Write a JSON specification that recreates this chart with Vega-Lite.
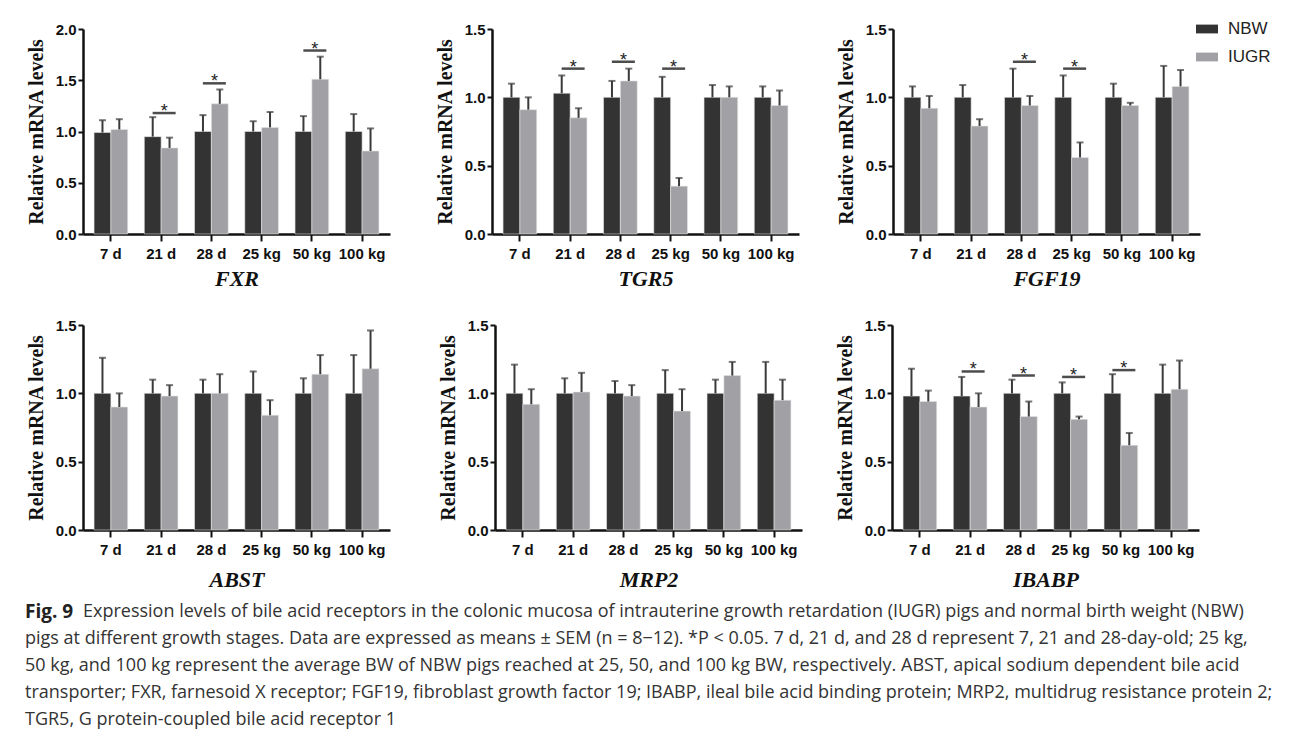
{
"$schema": "https://vega.github.io/schema/vega-lite/v6.json",
"padding": {"left": 25, "top": 18, "right": 5, "bottom": 5},
"background": "white",
"datasets": {
"bars": [
{"gene":"FXR","age":"7 d","group":"NBW","mean":0.99,"upper":1.11},{"gene":"FXR","age":"7 d","group":"IUGR","mean":1.02,"upper":1.12},
{"gene":"FXR","age":"21 d","group":"NBW","mean":0.95,"upper":1.14},{"gene":"FXR","age":"21 d","group":"IUGR","mean":0.84,"upper":0.94},
{"gene":"FXR","age":"28 d","group":"NBW","mean":1.0,"upper":1.16},{"gene":"FXR","age":"28 d","group":"IUGR","mean":1.27,"upper":1.41},
{"gene":"FXR","age":"25 kg","group":"NBW","mean":1.0,"upper":1.10},{"gene":"FXR","age":"25 kg","group":"IUGR","mean":1.04,"upper":1.19},
{"gene":"FXR","age":"50 kg","group":"NBW","mean":1.0,"upper":1.15},{"gene":"FXR","age":"50 kg","group":"IUGR","mean":1.51,"upper":1.73},
{"gene":"FXR","age":"100 kg","group":"NBW","mean":1.0,"upper":1.17},{"gene":"FXR","age":"100 kg","group":"IUGR","mean":0.81,"upper":1.03},
{"gene":"TGR5","age":"7 d","group":"NBW","mean":1.0,"upper":1.10},{"gene":"TGR5","age":"7 d","group":"IUGR","mean":0.91,"upper":1.0},
{"gene":"TGR5","age":"21 d","group":"NBW","mean":1.03,"upper":1.16},{"gene":"TGR5","age":"21 d","group":"IUGR","mean":0.85,"upper":0.92},
{"gene":"TGR5","age":"28 d","group":"NBW","mean":1.0,"upper":1.12},{"gene":"TGR5","age":"28 d","group":"IUGR","mean":1.12,"upper":1.21},
{"gene":"TGR5","age":"25 kg","group":"NBW","mean":1.0,"upper":1.15},{"gene":"TGR5","age":"25 kg","group":"IUGR","mean":0.35,"upper":0.41},
{"gene":"TGR5","age":"50 kg","group":"NBW","mean":1.0,"upper":1.09},{"gene":"TGR5","age":"50 kg","group":"IUGR","mean":1.0,"upper":1.08},
{"gene":"TGR5","age":"100 kg","group":"NBW","mean":1.0,"upper":1.08},{"gene":"TGR5","age":"100 kg","group":"IUGR","mean":0.94,"upper":1.05},
{"gene":"FGF19","age":"7 d","group":"NBW","mean":1.0,"upper":1.08},{"gene":"FGF19","age":"7 d","group":"IUGR","mean":0.92,"upper":1.01},
{"gene":"FGF19","age":"21 d","group":"NBW","mean":1.0,"upper":1.09},{"gene":"FGF19","age":"21 d","group":"IUGR","mean":0.79,"upper":0.84},
{"gene":"FGF19","age":"28 d","group":"NBW","mean":1.0,"upper":1.21},{"gene":"FGF19","age":"28 d","group":"IUGR","mean":0.94,"upper":1.01},
{"gene":"FGF19","age":"25 kg","group":"NBW","mean":1.0,"upper":1.16},{"gene":"FGF19","age":"25 kg","group":"IUGR","mean":0.56,"upper":0.67},
{"gene":"FGF19","age":"50 kg","group":"NBW","mean":1.0,"upper":1.10},{"gene":"FGF19","age":"50 kg","group":"IUGR","mean":0.94,"upper":0.96},
{"gene":"FGF19","age":"100 kg","group":"NBW","mean":1.0,"upper":1.23},{"gene":"FGF19","age":"100 kg","group":"IUGR","mean":1.08,"upper":1.20},
{"gene":"ABST","age":"7 d","group":"NBW","mean":1.0,"upper":1.26},{"gene":"ABST","age":"7 d","group":"IUGR","mean":0.90,"upper":1.0},
{"gene":"ABST","age":"21 d","group":"NBW","mean":1.0,"upper":1.10},{"gene":"ABST","age":"21 d","group":"IUGR","mean":0.98,"upper":1.06},
{"gene":"ABST","age":"28 d","group":"NBW","mean":1.0,"upper":1.10},{"gene":"ABST","age":"28 d","group":"IUGR","mean":1.0,"upper":1.14},
{"gene":"ABST","age":"25 kg","group":"NBW","mean":1.0,"upper":1.16},{"gene":"ABST","age":"25 kg","group":"IUGR","mean":0.84,"upper":0.95},
{"gene":"ABST","age":"50 kg","group":"NBW","mean":1.0,"upper":1.11},{"gene":"ABST","age":"50 kg","group":"IUGR","mean":1.14,"upper":1.28},
{"gene":"ABST","age":"100 kg","group":"NBW","mean":1.0,"upper":1.28},{"gene":"ABST","age":"100 kg","group":"IUGR","mean":1.18,"upper":1.46},
{"gene":"MRP2","age":"7 d","group":"NBW","mean":1.0,"upper":1.21},{"gene":"MRP2","age":"7 d","group":"IUGR","mean":0.92,"upper":1.03},
{"gene":"MRP2","age":"21 d","group":"NBW","mean":1.0,"upper":1.11},{"gene":"MRP2","age":"21 d","group":"IUGR","mean":1.01,"upper":1.15},
{"gene":"MRP2","age":"28 d","group":"NBW","mean":1.0,"upper":1.09},{"gene":"MRP2","age":"28 d","group":"IUGR","mean":0.98,"upper":1.06},
{"gene":"MRP2","age":"25 kg","group":"NBW","mean":1.0,"upper":1.17},{"gene":"MRP2","age":"25 kg","group":"IUGR","mean":0.87,"upper":1.03},
{"gene":"MRP2","age":"50 kg","group":"NBW","mean":1.0,"upper":1.10},{"gene":"MRP2","age":"50 kg","group":"IUGR","mean":1.13,"upper":1.23},
{"gene":"MRP2","age":"100 kg","group":"NBW","mean":1.0,"upper":1.23},{"gene":"MRP2","age":"100 kg","group":"IUGR","mean":0.95,"upper":1.10},
{"gene":"IBABP","age":"7 d","group":"NBW","mean":0.98,"upper":1.18},{"gene":"IBABP","age":"7 d","group":"IUGR","mean":0.94,"upper":1.02},
{"gene":"IBABP","age":"21 d","group":"NBW","mean":0.98,"upper":1.12},{"gene":"IBABP","age":"21 d","group":"IUGR","mean":0.90,"upper":1.0},
{"gene":"IBABP","age":"28 d","group":"NBW","mean":1.0,"upper":1.10},{"gene":"IBABP","age":"28 d","group":"IUGR","mean":0.83,"upper":0.94},
{"gene":"IBABP","age":"25 kg","group":"NBW","mean":1.0,"upper":1.08},{"gene":"IBABP","age":"25 kg","group":"IUGR","mean":0.81,"upper":0.83},
{"gene":"IBABP","age":"50 kg","group":"NBW","mean":1.0,"upper":1.14},{"gene":"IBABP","age":"50 kg","group":"IUGR","mean":0.62,"upper":0.71},
{"gene":"IBABP","age":"100 kg","group":"NBW","mean":1.0,"upper":1.21},{"gene":"IBABP","age":"100 kg","group":"IUGR","mean":1.03,"upper":1.24}
],
"sig": [
{"gene":"FXR","age":"21 d","level":1.18},{"gene":"FXR","age":"28 d","level":1.47},{"gene":"FXR","age":"50 kg","level":1.79},
{"gene":"TGR5","age":"21 d","level":1.21},{"gene":"TGR5","age":"28 d","level":1.26},{"gene":"TGR5","age":"25 kg","level":1.21},
{"gene":"FGF19","age":"28 d","level":1.26},{"gene":"FGF19","age":"25 kg","level":1.21},
{"gene":"IBABP","age":"21 d","level":1.16},{"gene":"IBABP","age":"28 d","level":1.13},{"gene":"IBABP","age":"25 kg","level":1.12},{"gene":"IBABP","age":"50 kg","level":1.17}
],
"caption": [
{"line":1,"part":"head","text":"Fig. 9"},
{"line":1,"part":"first","text":"Expression levels of bile acid receptors in the colonic mucosa of intrauterine growth retardation (IUGR) pigs and normal birth weight (NBW)"},
{"line":2,"part":"body","text":"pigs at different growth stages. Data are expressed as means ± SEM (n = 8−12). *P < 0.05. 7 d, 21 d, and 28 d represent 7, 21 and 28-day-old; 25 kg,"},
{"line":3,"part":"body","text":"50 kg, and 100 kg represent the average BW of NBW pigs reached at 25, 50, and 100 kg BW, respectively. ABST, apical sodium dependent bile acid"},
{"line":4,"part":"body","text":"transporter; FXR, farnesoid X receptor; FGF19, fibroblast growth factor 19; IBABP, ileal bile acid binding protein; MRP2, multidrug resistance protein 2;"},
{"line":5,"part":"body","text":"TGR5, G protein-coupled bile acid receptor 1"}
]
},
"spacing": 8,
"resolve": {"scale": {"color": "independent"}, "legend": {"color": "independent"}},
"vconcat": [
{
"spacing": 29,
"resolve": {"scale": {"color": "independent"}, "legend": {"color": "independent"}},
"vconcat": [
{
"spacing": 45,
"resolve": {"scale": {"color": "independent"}, "legend": {"color": "independent"}},
"hconcat": [
{"width":307,"height":205,
"encoding":{
"x":{"field":"age","type":"nominal","sort":["7 d","21 d","28 d","25 kg","50 kg","100 kg"],"scale":{"paddingInner":0.33,"paddingOuter":0.22},"title":"FXR"},
"y":{"field":"mean","type":"quantitative","scale":{"domain":[0,2],"nice":false},"axis":{"values":[0,0.5,1,1.5,2],"format":".1f"},"title":"Relative mRNA levels"}},
"layer":[
{"data":{"name":"bars"},"transform":[{"filter":"datum.gene === 'FXR'"}],"mark":{"type":"bar","stroke":"#e4e4e4","strokeWidth":0.6},"encoding":{"xOffset":{"field":"group","type":"nominal","scale":{"domain":["NBW","IUGR"]}},"color":{"field":"group","type":"nominal","scale":{"domain":["NBW","IUGR"],"range":["#333333","#a1a1a5"]},"legend":null}}},
{"data":{"name":"bars"},"transform":[{"filter":"datum.gene === 'FXR'"}],"mark":{"type":"rule","color":"#3a3a3a","strokeWidth":2},"encoding":{"xOffset":{"field":"group","type":"nominal","scale":{"domain":["NBW","IUGR"]}},"y2":{"field":"upper"}}},
{"data":{"name":"bars"},"transform":[{"filter":"datum.gene === 'FXR'"}],"mark":{"type":"tick","color":"#3a3a3a","thickness":2,"size":7},"encoding":{"xOffset":{"field":"group","type":"nominal","scale":{"domain":["NBW","IUGR"]}},"y":{"field":"upper","type":"quantitative","scale":{"domain":[0,2],"nice":false},"axis":{"values":[0,0.5,1,1.5,2],"format":".1f"},"title":"Relative mRNA levels"}}},
{"data":{"name":"sig"},"transform":[{"filter":"datum.gene === 'FXR'"}],"mark":{"type":"tick","color":"#000000","thickness":2.5,"size":23,"xOffset":3},"encoding":{"y":{"field":"level","type":"quantitative","scale":{"domain":[0,2],"nice":false},"axis":{"values":[0,0.5,1,1.5,2],"format":".1f"},"title":"Relative mRNA levels"}}},
{"data":{"name":"sig"},"transform":[{"filter":"datum.gene === 'FXR'"}],"mark":{"type":"text","text":"*","fontSize":18,"color":"#222222","baseline":"alphabetic","dy":4,"xOffset":3},"encoding":{"y":{"field":"level","type":"quantitative","scale":{"domain":[0,2],"nice":false},"axis":{"values":[0,0.5,1,1.5,2],"format":".1f"},"title":"Relative mRNA levels"}}}
]},
{
"spacing": 37,
"resolve": {"scale": {"color": "independent"}, "legend": {"color": "independent"}},
"hconcat": [
{"width":307,"height":205,
"encoding":{
"x":{"field":"age","type":"nominal","sort":["7 d","21 d","28 d","25 kg","50 kg","100 kg"],"scale":{"paddingInner":0.33,"paddingOuter":0.22},"title":"TGR5"},
"y":{"field":"mean","type":"quantitative","scale":{"domain":[0,1.5],"nice":false},"axis":{"values":[0,0.5,1,1.5],"format":".1f"},"title":"Relative mRNA levels"}},
"layer":[
{"data":{"name":"bars"},"transform":[{"filter":"datum.gene === 'TGR5'"}],"mark":{"type":"bar","stroke":"#e4e4e4","strokeWidth":0.6},"encoding":{"xOffset":{"field":"group","type":"nominal","scale":{"domain":["NBW","IUGR"]}},"color":{"field":"group","type":"nominal","scale":{"domain":["NBW","IUGR"],"range":["#333333","#a1a1a5"]},"legend":null}}},
{"data":{"name":"bars"},"transform":[{"filter":"datum.gene === 'TGR5'"}],"mark":{"type":"rule","color":"#3a3a3a","strokeWidth":2},"encoding":{"xOffset":{"field":"group","type":"nominal","scale":{"domain":["NBW","IUGR"]}},"y2":{"field":"upper"}}},
{"data":{"name":"bars"},"transform":[{"filter":"datum.gene === 'TGR5'"}],"mark":{"type":"tick","color":"#3a3a3a","thickness":2,"size":7},"encoding":{"xOffset":{"field":"group","type":"nominal","scale":{"domain":["NBW","IUGR"]}},"y":{"field":"upper","type":"quantitative","scale":{"domain":[0,1.5],"nice":false},"axis":{"values":[0,0.5,1,1.5],"format":".1f"},"title":"Relative mRNA levels"}}},
{"data":{"name":"sig"},"transform":[{"filter":"datum.gene === 'TGR5'"}],"mark":{"type":"tick","color":"#000000","thickness":2.5,"size":23,"xOffset":3},"encoding":{"y":{"field":"level","type":"quantitative","scale":{"domain":[0,1.5],"nice":false},"axis":{"values":[0,0.5,1,1.5],"format":".1f"},"title":"Relative mRNA levels"}}},
{"data":{"name":"sig"},"transform":[{"filter":"datum.gene === 'TGR5'"}],"mark":{"type":"text","text":"*","fontSize":18,"color":"#222222","baseline":"alphabetic","dy":4,"xOffset":3},"encoding":{"y":{"field":"level","type":"quantitative","scale":{"domain":[0,1.5],"nice":false},"axis":{"values":[0,0.5,1,1.5],"format":".1f"},"title":"Relative mRNA levels"}}}
]},
{"width":307,"height":205,
"encoding":{
"x":{"field":"age","type":"nominal","sort":["7 d","21 d","28 d","25 kg","50 kg","100 kg"],"scale":{"paddingInner":0.33,"paddingOuter":0.22},"title":"FGF19"},
"y":{"field":"mean","type":"quantitative","scale":{"domain":[0,1.5],"nice":false},"axis":{"values":[0,0.5,1,1.5],"format":".1f"},"title":"Relative mRNA levels"}},
"layer":[
{"data":{"name":"bars"},"transform":[{"filter":"datum.gene === 'FGF19'"}],"mark":{"type":"bar","stroke":"#e4e4e4","strokeWidth":0.6},"encoding":{"xOffset":{"field":"group","type":"nominal","scale":{"domain":["NBW","IUGR"]}},"color":{"field":"group","type":"nominal","scale":{"domain":["NBW","IUGR"],"range":["#333333","#a1a1a5"]},"legend":{"orient":"none","legendX":303,"legendY":-11,"title":null,"symbolType":"M-1,-0.4L1,-0.4L1,0.4L-1,0.4Z","symbolSize":484,"symbolStrokeWidth":0,"labelFont":"Liberation Sans","labelFontSize":17,"labelColor":"#222222","labelOffset":10,"rowPadding":9}}}},
{"data":{"name":"bars"},"transform":[{"filter":"datum.gene === 'FGF19'"}],"mark":{"type":"rule","color":"#3a3a3a","strokeWidth":2},"encoding":{"xOffset":{"field":"group","type":"nominal","scale":{"domain":["NBW","IUGR"]}},"y2":{"field":"upper"}}},
{"data":{"name":"bars"},"transform":[{"filter":"datum.gene === 'FGF19'"}],"mark":{"type":"tick","color":"#3a3a3a","thickness":2,"size":7},"encoding":{"xOffset":{"field":"group","type":"nominal","scale":{"domain":["NBW","IUGR"]}},"y":{"field":"upper","type":"quantitative","scale":{"domain":[0,1.5],"nice":false},"axis":{"values":[0,0.5,1,1.5],"format":".1f"},"title":"Relative mRNA levels"}}},
{"data":{"name":"sig"},"transform":[{"filter":"datum.gene === 'FGF19'"}],"mark":{"type":"tick","color":"#000000","thickness":2.5,"size":23,"xOffset":3},"encoding":{"y":{"field":"level","type":"quantitative","scale":{"domain":[0,1.5],"nice":false},"axis":{"values":[0,0.5,1,1.5],"format":".1f"},"title":"Relative mRNA levels"}}},
{"data":{"name":"sig"},"transform":[{"filter":"datum.gene === 'FGF19'"}],"mark":{"type":"text","text":"*","fontSize":18,"color":"#222222","baseline":"alphabetic","dy":4,"xOffset":3},"encoding":{"y":{"field":"level","type":"quantitative","scale":{"domain":[0,1.5],"nice":false},"axis":{"values":[0,0.5,1,1.5],"format":".1f"},"title":"Relative mRNA levels"}}}
]}
]
}
]
},
{
"spacing": 48,
"resolve": {"scale": {"color": "independent"}, "legend": {"color": "independent"}},
"hconcat": [
{"width":307,"height":205,
"encoding":{
"x":{"field":"age","type":"nominal","sort":["7 d","21 d","28 d","25 kg","50 kg","100 kg"],"scale":{"paddingInner":0.33,"paddingOuter":0.22},"axis":{"titlePadding":12},"title":"ABST"},
"y":{"field":"mean","type":"quantitative","scale":{"domain":[0,1.5],"nice":false},"axis":{"values":[0,0.5,1,1.5],"format":".1f"},"title":"Relative mRNA levels"}},
"layer":[
{"data":{"name":"bars"},"transform":[{"filter":"datum.gene === 'ABST'"}],"mark":{"type":"bar","stroke":"#e4e4e4","strokeWidth":0.6},"encoding":{"xOffset":{"field":"group","type":"nominal","scale":{"domain":["NBW","IUGR"]}},"color":{"field":"group","type":"nominal","scale":{"domain":["NBW","IUGR"],"range":["#333333","#a1a1a5"]},"legend":null}}},
{"data":{"name":"bars"},"transform":[{"filter":"datum.gene === 'ABST'"}],"mark":{"type":"rule","color":"#3a3a3a","strokeWidth":2},"encoding":{"xOffset":{"field":"group","type":"nominal","scale":{"domain":["NBW","IUGR"]}},"y2":{"field":"upper"}}},
{"data":{"name":"bars"},"transform":[{"filter":"datum.gene === 'ABST'"}],"mark":{"type":"tick","color":"#3a3a3a","thickness":2,"size":7},"encoding":{"xOffset":{"field":"group","type":"nominal","scale":{"domain":["NBW","IUGR"]}},"y":{"field":"upper","type":"quantitative","scale":{"domain":[0,1.5],"nice":false},"axis":{"values":[0,0.5,1,1.5],"format":".1f"},"title":"Relative mRNA levels"}}}
]},
{
"spacing": 33,
"resolve": {"scale": {"color": "independent"}, "legend": {"color": "independent"}},
"hconcat": [
{"width":307,"height":205,
"encoding":{
"x":{"field":"age","type":"nominal","sort":["7 d","21 d","28 d","25 kg","50 kg","100 kg"],"scale":{"paddingInner":0.33,"paddingOuter":0.22},"axis":{"titlePadding":12},"title":"MRP2"},
"y":{"field":"mean","type":"quantitative","scale":{"domain":[0,1.5],"nice":false},"axis":{"values":[0,0.5,1,1.5],"format":".1f"},"title":"Relative mRNA levels"}},
"layer":[
{"data":{"name":"bars"},"transform":[{"filter":"datum.gene === 'MRP2'"}],"mark":{"type":"bar","stroke":"#e4e4e4","strokeWidth":0.6},"encoding":{"xOffset":{"field":"group","type":"nominal","scale":{"domain":["NBW","IUGR"]}},"color":{"field":"group","type":"nominal","scale":{"domain":["NBW","IUGR"],"range":["#333333","#a1a1a5"]},"legend":null}}},
{"data":{"name":"bars"},"transform":[{"filter":"datum.gene === 'MRP2'"}],"mark":{"type":"rule","color":"#3a3a3a","strokeWidth":2},"encoding":{"xOffset":{"field":"group","type":"nominal","scale":{"domain":["NBW","IUGR"]}},"y2":{"field":"upper"}}},
{"data":{"name":"bars"},"transform":[{"filter":"datum.gene === 'MRP2'"}],"mark":{"type":"tick","color":"#3a3a3a","thickness":2,"size":7},"encoding":{"xOffset":{"field":"group","type":"nominal","scale":{"domain":["NBW","IUGR"]}},"y":{"field":"upper","type":"quantitative","scale":{"domain":[0,1.5],"nice":false},"axis":{"values":[0,0.5,1,1.5],"format":".1f"},"title":"Relative mRNA levels"}}}
]},
{"width":307,"height":205,
"encoding":{
"x":{"field":"age","type":"nominal","sort":["7 d","21 d","28 d","25 kg","50 kg","100 kg"],"scale":{"paddingInner":0.33,"paddingOuter":0.22},"axis":{"titlePadding":12},"title":"IBABP"},
"y":{"field":"mean","type":"quantitative","scale":{"domain":[0,1.5],"nice":false},"axis":{"values":[0,0.5,1,1.5],"format":".1f"},"title":"Relative mRNA levels"}},
"layer":[
{"data":{"name":"bars"},"transform":[{"filter":"datum.gene === 'IBABP'"}],"mark":{"type":"bar","stroke":"#e4e4e4","strokeWidth":0.6},"encoding":{"xOffset":{"field":"group","type":"nominal","scale":{"domain":["NBW","IUGR"]}},"color":{"field":"group","type":"nominal","scale":{"domain":["NBW","IUGR"],"range":["#333333","#a1a1a5"]},"legend":null}}},
{"data":{"name":"bars"},"transform":[{"filter":"datum.gene === 'IBABP'"}],"mark":{"type":"rule","color":"#3a3a3a","strokeWidth":2},"encoding":{"xOffset":{"field":"group","type":"nominal","scale":{"domain":["NBW","IUGR"]}},"y2":{"field":"upper"}}},
{"data":{"name":"bars"},"transform":[{"filter":"datum.gene === 'IBABP'"}],"mark":{"type":"tick","color":"#3a3a3a","thickness":2,"size":7},"encoding":{"xOffset":{"field":"group","type":"nominal","scale":{"domain":["NBW","IUGR"]}},"y":{"field":"upper","type":"quantitative","scale":{"domain":[0,1.5],"nice":false},"axis":{"values":[0,0.5,1,1.5],"format":".1f"},"title":"Relative mRNA levels"}}},
{"data":{"name":"sig"},"transform":[{"filter":"datum.gene === 'IBABP'"}],"mark":{"type":"tick","color":"#000000","thickness":2.5,"size":23,"xOffset":3},"encoding":{"y":{"field":"level","type":"quantitative","scale":{"domain":[0,1.5],"nice":false},"axis":{"values":[0,0.5,1,1.5],"format":".1f"},"title":"Relative mRNA levels"}}},
{"data":{"name":"sig"},"transform":[{"filter":"datum.gene === 'IBABP'"}],"mark":{"type":"text","text":"*","fontSize":18,"color":"#222222","baseline":"alphabetic","dy":4,"xOffset":3},"encoding":{"y":{"field":"level","type":"quantitative","scale":{"domain":[0,1.5],"nice":false},"axis":{"values":[0,0.5,1,1.5],"format":".1f"},"title":"Relative mRNA levels"}}}
]}
]
}
]
}
]
},
{"width":1180,"height":135,
"data":{"name":"caption"},
"encoding":{
"y":{"field":"line","type":"ordinal","axis":null,"scale":{"domain":[1,2,3,4,5]}},
"x":{"datum":0,"type":"quantitative","scale":{"domain":[0,1]},"axis":null},
"text":{"field":"text"}},
"layer":[
{"transform":[{"filter":"datum.part === 'head'"}],"mark":{"type":"text","align":"left","font":"Open Sans","fontWeight":"bold","fontSize":19,"color":"#222222","dx":-58}},
{"transform":[{"filter":"datum.part === 'first'"}],"mark":{"type":"text","align":"left","font":"Open Sans","fontSize":18,"color":"#333333","dx":0}},
{"transform":[{"filter":"datum.part === 'body'"}],"mark":{"type":"text","align":"left","font":"Open Sans","fontSize":18,"color":"#333333","dx":-58}}
]}
],
"config": {
"view": {"stroke": null},
"font": "Liberation Sans",
"axis": {"domainColor":"#111111","domainWidth":2.5,"tickColor":"#111111","tickWidth":2,"labelFont":"Liberation Sans","labelFontWeight":"bold","labelFontSize":15,"labelColor":"#111111","titleFont":"Liberation Serif","titleFontWeight":"bold","titleColor":"#111111","grid":false},
"axisX": {"tickSize":7,"labelAngle":0,"labelPadding":5,"titleFontStyle":"italic","titleFontSize":22,"titlePadding":7},
"axisY": {"tickSize":5,"labelPadding":2,"titleFontSize":20,"titlePadding":9}
}
}
